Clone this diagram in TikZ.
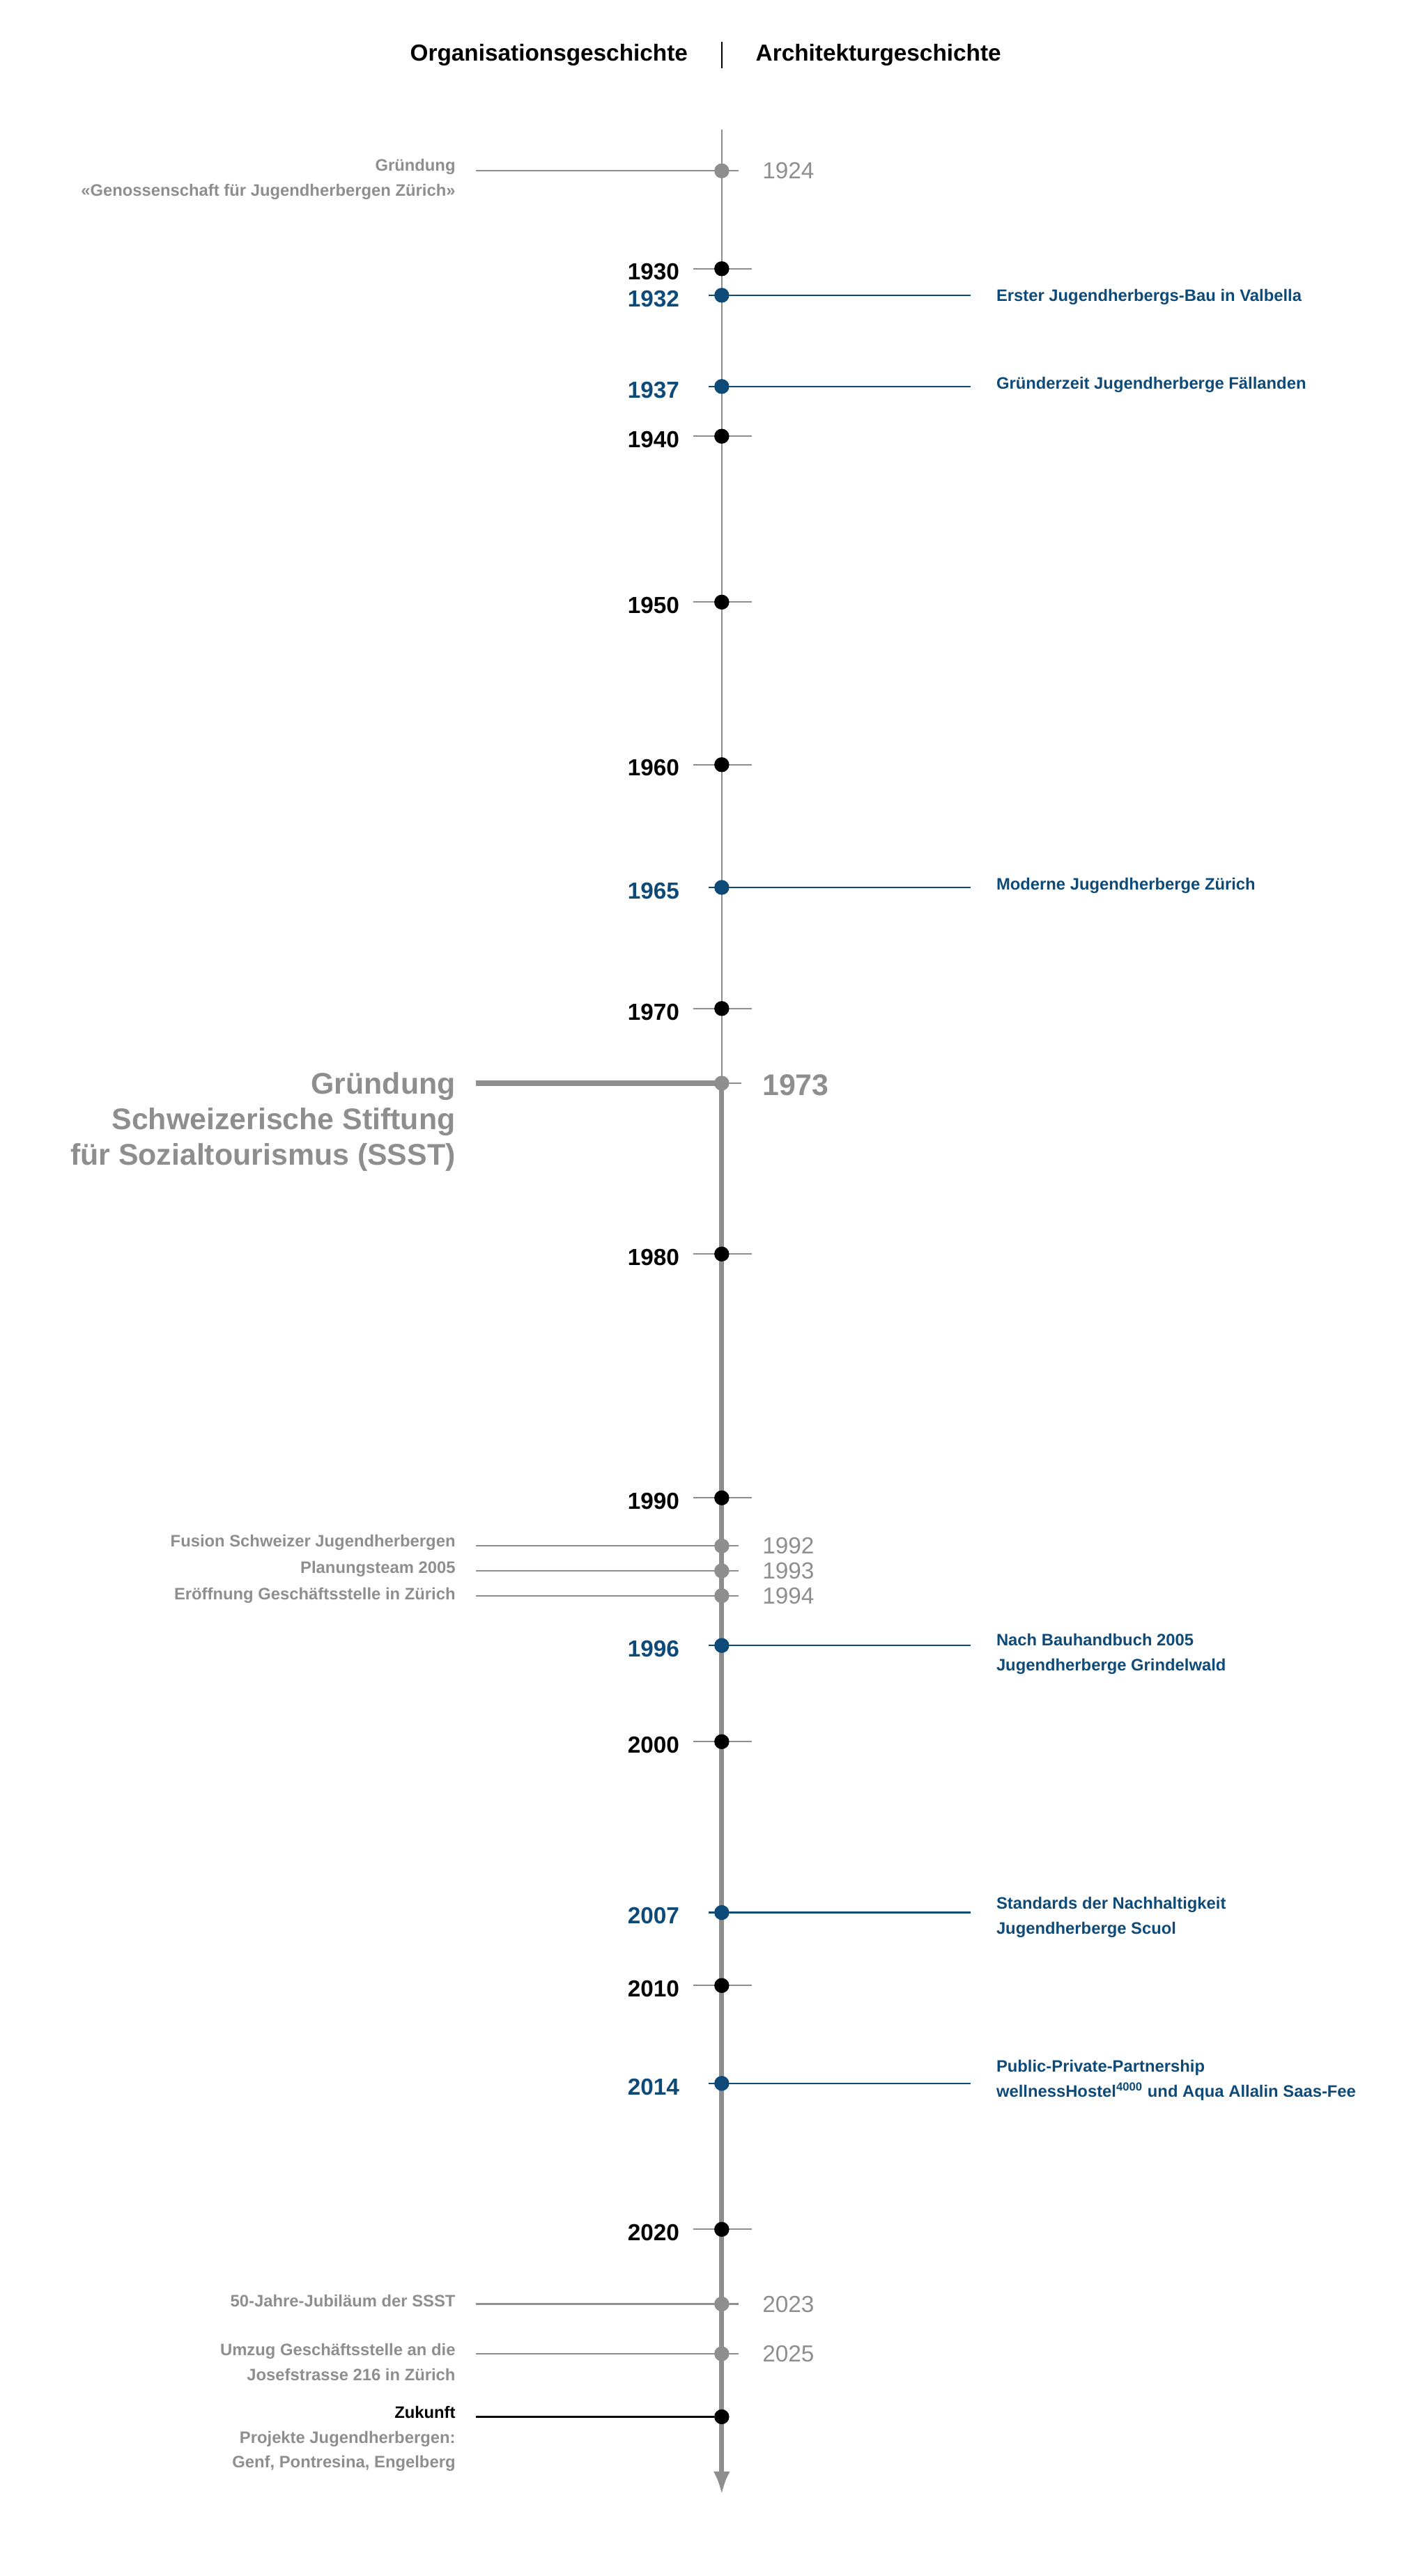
\documentclass[tikz,border=0pt]{standalone}
\usepackage{fontspec}
\setmainfont{Liberation Sans}
\usetikzlibrary{arrows.meta}
\definecolor{tlgrey}{HTML}{8E8E8E}
\definecolor{tlblue}{HTML}{0E4A78}

\begin{document}
\begin{tikzpicture}[x=1pt, y=-1pt, dot/.style={circle, fill, inner sep=0pt, minimum size=9pt}, yr/.style={font=\fontsize{14}{16}\selectfont\bfseries}, lbl/.style={font=\fontsize{10}{15}\selectfont\bfseries, align=left, anchor=west}, llbl/.style={font=\fontsize{10}{15}\selectfont\bfseries, align=right, anchor=east, text=tlgrey}, tick/.style={tlgrey, line width=0.8pt}, conn/.style={line width=0.9pt}]
            \useasboundingbox (0,0) rectangle (860,1553);
            % header
            \node[font=\fontsize{14}{16}\selectfont\bfseries, anchor=east] (orga) at (418,33) {Organisationsgeschichte};
            \node[font=\fontsize{14}{16}\selectfont\bfseries, anchor=west] (archi) at (452,33) {Architekturgeschichte};
            \coordinate (bartop) at (435,25);
            \coordinate (barbot) at (435,41);
            \draw[line width=1pt] (bartop) -- (barbot);
            % axis
            \coordinate (top) at (435,78);
            \coordinate (mid) at (435,653);
            \coordinate (tip) at (435,1504);
            \draw[tlgrey, line width=1pt] (top) -- (mid);
            \draw[tlgrey, line width=3pt, -{Latex[length=14pt, width=10pt]}] (mid) -- (tip);
            % decades
            \foreach \y/\t in {162/1930, 263/1940, 363/1950, 461/1960, 608/1970, 756/1980, 903/1990, 1050/2000, 1197/2010, 1344/2020} {
                \coordinate (tl\t) at (418,\y);
                \coordinate (tr\t) at (453,\y);
                \draw[tick] (tl\t) -- (tr\t);
                \node[dot, black] (d\t) at (435,\y) {};
                \node[yr, anchor=east] (y\t) at (413,\y+2) {\t};
            }
            % architecture
            \foreach \y/\t in {178/1932, 233/1937, 535/1965, 992/1996, 1153/2007, 1256/2014} {
                \coordinate (tl\t) at (427,\y);
                \coordinate (tr\t) at (585,\y);
                \draw[tlblue, conn] (tl\t) -- (tr\t);
                \node[dot, tlblue] (d\t) at (435,\y) {};
                \node[yr, anchor=east, text=tlblue] (y\t) at (413,\y+2) {\t};
            }
            \node[lbl, text=tlblue] (a1932) at (597,179) {Erster Jugendherbergs-Bau in Valbella};
            \node[lbl, text=tlblue] (a1937) at (597,232) {Gründerzeit Jugendherberge Fällanden};
            \node[lbl, text=tlblue] (a1965) at (597,534) {Moderne Jugendherberge Zürich};
            \node[lbl, text=tlblue] (a1996) at (597,997) {Nach Bauhandbuch 2005\\Jugendherberge Grindelwald};
            \node[lbl, text=tlblue] (a2007) at (597,1156) {Standards der Nachhaltigkeit\\Jugendherberge Scuol};
            \node[lbl, text=tlblue] (a2014) at (597,1254) {Public-Private-Partnership\\wellnessHostel\textsuperscript{4000} und Aqua Allalin Saas-Fee};
            % organisation
            \foreach \y/\t in {103/1924, 932/1992, 947/1993, 962/1994, 1389/2023, 1419/2025} {
                \coordinate (ol\t) at (287,\y);
                \coordinate (tr\t) at (445,\y);
                \draw[tlgrey, conn] (ol\t) -- (tr\t);
                \node[dot, tlgrey] (d\t) at (435,\y) {};
                \node[yr, anchor=west, text=tlgrey, font=\fontsize{14}{16}\selectfont] (y\t) at (456,\y) {\t};
            }
            \node[llbl] (o1924) at (278,108) {Gründung\\«Genossenschaft für Jugendherbergen Zürich»};
            \node[llbl] (o1992) at (278,930) {Fusion Schweizer Jugendherbergen};
            \node[llbl] (o1993) at (278,946) {Planungsteam 2005};
            \node[llbl] (o1994) at (278,962) {Eröffnung Geschäftsstelle in Zürich};
            \node[llbl] (o2023) at (278,1387) {50-Jahre-Jubiläum der SSST};
            \node[llbl] (o2025) at (278,1424) {Umzug Geschäftsstelle an\ die\\Josefstrasse 216 in Zürich};
            % 1973
            \coordinate (ol1973) at (287,653);
            \coordinate (tr1973) at (447,653);
            \draw[tlgrey, line width=3pt] (ol1973) -- (mid);
            \draw[tick] (mid) -- (tr1973);
            \node[dot, tlgrey] (d1973) at (mid) {};
            \node[anchor=west, text=tlgrey, font=\fontsize{18}{20}\selectfont\bfseries] (y1973) at (456,654) {1973};
            \node[anchor=north east, align=right, text=tlgrey, font=\fontsize{18}{21.5}\selectfont\bfseries] (o1973) at (278,643) {Gründung\\Schweizerische Stiftung\\für Sozialtourismus (SSST)};
            % Zukunft
            \coordinate (ozk) at (287,1457);
            \node[dot, black] (dzk) at (435,1457) {};
            \draw[conn] (ozk) -- (dzk);
            \node[llbl, anchor=north east] (ozukunft) at (278,1447) {\textcolor{black}{Zukunft}\\Projekte Jugendherbergen:\\Genf, Pontresina, Engelberg};
        \end{tikzpicture}
\end{document}
